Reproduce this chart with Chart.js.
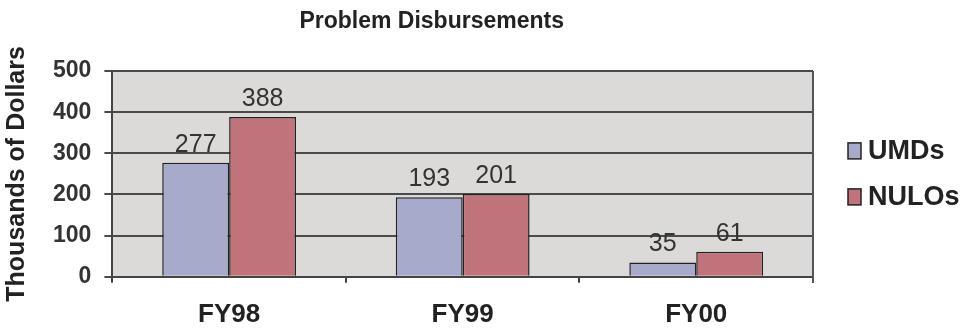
<!DOCTYPE html>
<html>
<head>
<meta charset="utf-8">
<script src="https://cdn.jsdelivr.net/npm/chart.js@4.4.0/dist/chart.umd.min.js"></script>
<style>
  html, body { margin: 0; padding: 0; background: #fff; }
  #chart { display: block; }
</style>
</head>
<body>
<canvas id="chart" width="976" height="328"></canvas>
<script>
var categories = ['FY98', 'FY99', 'FY00'];
var umds = [277, 193, 35];
var nulos = [388, 201, 61];
var yTicks = [0, 100, 200, 300, 400, 500];
var chartTitle = 'Problem Disbursements';

var FONT = "'Liberation Sans', Arial, sans-serif";

// grey plot area, right frame line and the title (sits a bit left of the plot centre like the original)
const plotFrame = {
    id: 'plotFrame',
    beforeDraw: (chart) => {
        const {ctx, chartArea} = chart;
        ctx.save();
        ctx.fillStyle = '#dcdad9';
        ctx.fillRect(chartArea.left, chartArea.top, chartArea.right - chartArea.left, chartArea.bottom - chartArea.top);
        ctx.restore();
    },
    afterDraw: (chart) => {
        const {ctx, chartArea} = chart;
        ctx.save();
        ctx.strokeStyle = '#555';
        ctx.lineWidth = 2;
        ctx.beginPath();
        ctx.moveTo(chartArea.right, chartArea.top);
        ctx.lineTo(chartArea.right, chartArea.bottom + 6);
        ctx.stroke();

        ctx.font = 'bold 23px ' + FONT;
        ctx.fillStyle = '#222';
        ctx.textAlign = 'center';
        ctx.textBaseline = 'middle';
        ctx.fillText(chartTitle, (chartArea.left + chartArea.right) / 2 - 31, 22);
        ctx.restore();
    }
};

// legend to the right of the plot, built from the datasets
const sideLegend = {
    id: 'sideLegend',
    afterDraw: (chart) => {
        const {ctx, chartArea} = chart;
        const sets = chart.data.datasets;
        const rowGap = 46;
        const midY = (chartArea.top + chartArea.bottom) / 2;
        const x = chartArea.right + 35;
        ctx.save();
        ctx.font = 'bold 27px ' + FONT;
        ctx.textBaseline = 'middle';
        ctx.textAlign = 'left';
        sets.forEach(function(ds, i) {
            const y = midY + (i - (sets.length - 1) / 2) * rowGap;
            ctx.fillStyle = ds.backgroundColor;
            ctx.fillRect(x, y - 8, 13, 16);
            ctx.strokeStyle = '#222';
            ctx.lineWidth = 1.5;
            ctx.strokeRect(x, y - 8, 13, 16);
            ctx.fillStyle = '#222';
            ctx.fillText(ds.label, x + 20, y + 1);
        });
        ctx.restore();
    }
};

const valueLabels = {
    id: 'valueLabels',
    afterDatasetsDraw: (chart) => {
        const {ctx} = chart;
        ctx.save();
        ctx.font = '25px ' + FONT;
        ctx.fillStyle = '#333';
        ctx.textAlign = 'center';
        ctx.textBaseline = 'alphabetic';
        chart.data.datasets.forEach(function(ds, i) {
            chart.getDatasetMeta(i).data.forEach(function(bar, j) {
                ctx.fillText(ds.data[j], bar.x, bar.y - 11);
            });
        });
        ctx.restore();
    }
};

new Chart(document.getElementById('chart'), {
    type: 'bar',
    data: {
        labels: categories,
        datasets: [
            {
                label: 'UMDs',
                data: umds,
                backgroundColor: '#a8aacc',
                borderColor: '#222',
                borderWidth: 1.5,
                borderSkipped: 'bottom',
            }, {
                label: 'NULOs',
                data: nulos,
                backgroundColor: '#c0737a',
                borderColor: '#222',
                borderWidth: 1.5,
                borderSkipped: 'bottom',
            }
        ],
    },
    options: {
        responsive: false,
        animation: false,
        datasets: {
            bar: {
                categoryPercentage: 0.573,
                barPercentage: 1.0,
            },
        },
        layout: {
            padding: { left: 2, right: 163, top: 71, bottom: -18 },
        },
        plugins: {
            title: { display: false },
            legend: { display: false },
            tooltip: { enabled: false },
        },
        scales: {
            x: {
                grid: {
                    offset: true,
                    drawOnChartArea: false,
                    drawTicks: true,
                    tickLength: 6,
                    color: '#444',
                    lineWidth: 2,
                },
                border: { display: true, color: '#444', width: 2 },
                ticks: {
                    color: '#222',
                    font: { family: FONT, size: 26, weight: 'bold' },
                    padding: 16,
                },
            },
            y: {
                min: 0,
                max: 500,
                afterBuildTicks: function(axis) {
                    axis.ticks = yTicks.map(function(v) { return {value: v}; });
                },
                title: {
                    display: true,
                    text: 'Thousands of Dollars',
                    color: '#222',
                    font: { family: FONT, size: 25, weight: 'bold' },
                    padding: { top: 0, bottom: 8 },
                },
                grid: {
                    color: '#4a4a4a',
                    lineWidth: 2,
                    tickLength: 8,
                },
                border: { display: true, color: '#444', width: 2 },
                ticks: {
                    color: '#333',
                    font: { family: FONT, size: 23, weight: 'bold' },
                    padding: 13,
                },
            },
        },
    },
    plugins: [plotFrame, sideLegend, valueLabels],
});
</script>
</body>
</html>
